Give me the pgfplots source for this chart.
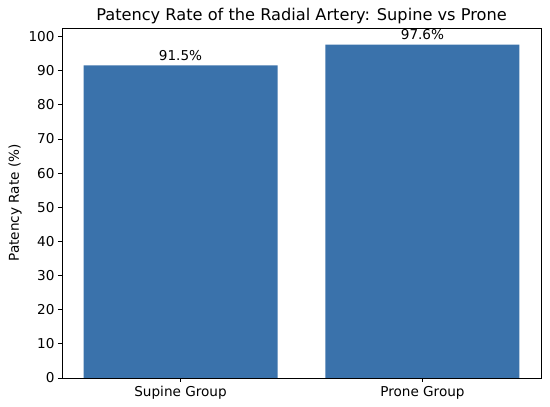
\documentclass[border=0pt]{standalone}
\usepackage{pgfplots}
\pgfplotsset{compat=1.18}
\usepackage{fontspec}
\setmainfont{DejaVu Sans}
\definecolor{barblue}{HTML}{3A72AB}
\begin{document}
\begin{tikzpicture}[x=1pt,y=1pt]
\useasboundingbox (-62,-29) rectangle (488,378);
\begin{axis}[
  at={(0,0)}, anchor=south west,
  scale only axis, width=479pt, height=350pt,
  xmin=-0.49, xmax=1.49, ymin=0, ymax=102.48,
  xtick={0,1}, xticklabels={Supine Group, Prone Group},
  ytick={0,10,...,100},
  tick align=outside, major tick length=4pt,
  xtick pos=left, ytick pos=left,
  tick style={black, line width=0.7pt},
  axis line style={black, line width=0.7pt},
  ticklabel style={font=\fontsize{13.6}{15}\selectfont},
  /pgf/number format/assume math mode=true,
  ylabel={Patency Rate (\%)},
  ylabel style={font=\fontsize{13.6}{15}\selectfont},
  title={Patency Rate of the Radial Artery: Supine vs Prone},
  title style={font=\fontsize{16.2}{18}\selectfont, yshift=-5pt},
  xticklabel style={yshift=-1pt},
  ybar, bar width=194pt,
  nodes near coords={\pgfmathprintnumber[fixed,precision=1,fixed zerofill]{\pgfplotspointmeta}\%},
  nodes near coords style={font=\fontsize{13.6}{15}\selectfont, black, yshift=1pt},
]
\addplot[fill=barblue, draw=none] coordinates {(0,91.5) (1,97.6)};
\end{axis}
\end{tikzpicture}
\end{document}
